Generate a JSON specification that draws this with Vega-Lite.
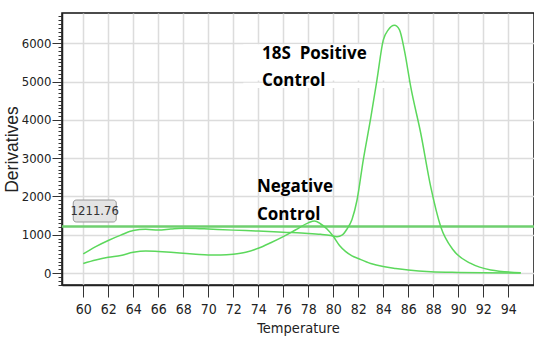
{
  "$schema": "https://vega.github.io/schema/vega-lite/v6.json",
  "width": 472,
  "height": 272,
  "autosize": "none",
  "padding": {"left": 62, "top": 13, "right": 0, "bottom": 52},
  "background": "white",
  "config": {
    "view": {"stroke": "#111", "strokeWidth": 1.5},
    "axis": {
      "labelFont": "DejaVu Sans Condensed",
      "labelFontSize": 13,
      "labelColor": "#222",
      "titleFont": "DejaVu Sans Condensed",
      "titleFontSize": 14.5,
      "titleFontWeight": "normal",
      "titleColor": "#222",
      "domainColor": "#222",
      "domainWidth": 1.5,
      "tickColor": "#333",
      "gridColor": "#dcdcdc",
      "gridWidth": 1.5
    }
  },
  "datasets": {
    "curves": [
      {"series": "18S Positive Control", "T": 60, "v": 500},
      {"series": "18S Positive Control", "T": 61, "v": 690},
      {"series": "18S Positive Control", "T": 62, "v": 850},
      {"series": "18S Positive Control", "T": 63, "v": 990},
      {"series": "18S Positive Control", "T": 64, "v": 1110},
      {"series": "18S Positive Control", "T": 65, "v": 1140},
      {"series": "18S Positive Control", "T": 66, "v": 1125},
      {"series": "18S Positive Control", "T": 67, "v": 1150},
      {"series": "18S Positive Control", "T": 68, "v": 1170},
      {"series": "18S Positive Control", "T": 69, "v": 1165},
      {"series": "18S Positive Control", "T": 70, "v": 1150},
      {"series": "18S Positive Control", "T": 72, "v": 1120},
      {"series": "18S Positive Control", "T": 74, "v": 1095},
      {"series": "18S Positive Control", "T": 76, "v": 1065},
      {"series": "18S Positive Control", "T": 78, "v": 1035},
      {"series": "18S Positive Control", "T": 79, "v": 1010},
      {"series": "18S Positive Control", "T": 79.8, "v": 980},
      {"series": "18S Positive Control", "T": 80.3, "v": 950},
      {"series": "18S Positive Control", "T": 80.7, "v": 990},
      {"series": "18S Positive Control", "T": 81.1, "v": 1150},
      {"series": "18S Positive Control", "T": 81.5, "v": 1400},
      {"series": "18S Positive Control", "T": 81.9, "v": 1900},
      {"series": "18S Positive Control", "T": 82.4, "v": 2950},
      {"series": "18S Positive Control", "T": 83.0, "v": 4050},
      {"series": "18S Positive Control", "T": 83.5, "v": 5050},
      {"series": "18S Positive Control", "T": 84.0, "v": 6080},
      {"series": "18S Positive Control", "T": 84.4, "v": 6350},
      {"series": "18S Positive Control", "T": 84.9, "v": 6470},
      {"series": "18S Positive Control", "T": 85.3, "v": 6350},
      {"series": "18S Positive Control", "T": 85.7, "v": 5800},
      {"series": "18S Positive Control", "T": 86.2, "v": 4860},
      {"series": "18S Positive Control", "T": 87.0, "v": 3650},
      {"series": "18S Positive Control", "T": 87.8, "v": 2250},
      {"series": "18S Positive Control", "T": 88.6, "v": 1210},
      {"series": "18S Positive Control", "T": 89.6, "v": 600},
      {"series": "18S Positive Control", "T": 91.0, "v": 250},
      {"series": "18S Positive Control", "T": 92.6, "v": 80},
      {"series": "18S Positive Control", "T": 95.0, "v": 10},
      {"series": "Negative Control", "T": 60, "v": 250},
      {"series": "Negative Control", "T": 61, "v": 340},
      {"series": "Negative Control", "T": 62, "v": 410},
      {"series": "Negative Control", "T": 63, "v": 460},
      {"series": "Negative Control", "T": 64, "v": 540},
      {"series": "Negative Control", "T": 65, "v": 575},
      {"series": "Negative Control", "T": 66, "v": 560},
      {"series": "Negative Control", "T": 67, "v": 540},
      {"series": "Negative Control", "T": 68, "v": 515},
      {"series": "Negative Control", "T": 69, "v": 490},
      {"series": "Negative Control", "T": 70, "v": 470},
      {"series": "Negative Control", "T": 71, "v": 470},
      {"series": "Negative Control", "T": 72, "v": 490},
      {"series": "Negative Control", "T": 73, "v": 540},
      {"series": "Negative Control", "T": 74, "v": 645},
      {"series": "Negative Control", "T": 75, "v": 790},
      {"series": "Negative Control", "T": 76, "v": 950},
      {"series": "Negative Control", "T": 77, "v": 1130},
      {"series": "Negative Control", "T": 78, "v": 1310},
      {"series": "Negative Control", "T": 78.5, "v": 1360},
      {"series": "Negative Control", "T": 79, "v": 1280},
      {"series": "Negative Control", "T": 79.5, "v": 1150},
      {"series": "Negative Control", "T": 80, "v": 960},
      {"series": "Negative Control", "T": 80.5, "v": 720},
      {"series": "Negative Control", "T": 81, "v": 560},
      {"series": "Negative Control", "T": 81.5, "v": 450},
      {"series": "Negative Control", "T": 82, "v": 380},
      {"series": "Negative Control", "T": 83, "v": 250},
      {"series": "Negative Control", "T": 84, "v": 170},
      {"series": "Negative Control", "T": 85, "v": 120},
      {"series": "Negative Control", "T": 86, "v": 80},
      {"series": "Negative Control", "T": 87.8, "v": 35},
      {"series": "Negative Control", "T": 90, "v": 15},
      {"series": "Negative Control", "T": 92, "v": 5},
      {"series": "Negative Control", "T": 95, "v": 0}
    ],
    "whitebox": [
      {"T": 72.8, "T2": 87.9, "v": 5030, "v2": 5975},
      {"T": 72.8, "T2": 87.9, "v": 4830, "v2": 4970}
    ],
    "threshold": [
      {"T": 58.0, "T2": 97.0, "v": 1211.76}
    ],
    "thrbox": [
      {"T": 59.2, "T2": 62.64, "v": 1332, "v2": 1906, "label": "1211.76", "Tc": 60.92, "vc": 1619}
    ],
    "notes": [
      {"T": 74.3, "v": 5730, "label": "18S\u00a0 Positive"},
      {"T": 74.3, "v": 5020, "label": "Control"},
      {"T": 73.9, "v": 2245, "label": "Negative"},
      {"T": 73.9, "v": 1514, "label": "Control"}
    ]
  },
  "encoding": {
    "x": {
      "field": "T",
      "type": "quantitative",
      "scale": {"domain": [58.3, 96.06], "nice": false, "zero": false},
      "axis": {
        "title": "Temperature",
        "values": [60, 62, 64, 66, 68, 70, 72, 74, 76, 78, 80, 82, 84, 86, 88, 90, 92, 94],
        "tickSize": 12,
        "labelFontSize": 14,
        "labelPadding": 5,
        "titlePadding": 5,
        "grid": true
      }
    },
    "y": {
      "field": "v",
      "type": "quantitative",
      "scale": {"domain": [-313, 6790], "nice": false, "zero": false},
      "axis": {
        "title": "Derivatives",
        "titleFontSize": 17.5,
        "titleFont": "Liberation Sans",
        "values": [-300, -200, -100, 0, 100, 200, 300, 400, 500, 600, 700, 800, 900, 1000, 1100, 1200, 1300, 1400, 1500, 1600, 1700, 1800, 1900, 2000, 2100, 2200, 2300, 2400, 2500, 2600, 2700, 2800, 2900, 3000, 3100, 3200, 3300, 3400, 3500, 3600, 3700, 3800, 3900, 4000, 4100, 4200, 4300, 4400, 4500, 4600, 4700, 4800, 4900, 5000, 5100, 5200, 5300, 5400, 5500, 5600, 5700, 5800, 5900, 6000, 6100, 6200, 6300, 6400, 6500, 6600, 6700],
        "labelExpr": "datum.value % 1000 === 0 ? datum.value : ''",
        "tickSize": {"condition": {"test": "datum.value % 1000 === 0", "value": 10}, "value": 4},
        "gridOpacity": {"condition": {"test": "datum.value % 1000 === 0", "value": 1}, "value": 0},
        "labelPadding": 1,
        "titlePadding": 0,
        "grid": true
      }
    }
  },
  "layer": [
    {
      "data": {"name": "whitebox"},
      "mark": {"type": "rect", "fill": "white", "stroke": null},
      "encoding": {"x2": {"field": "T2"}, "y2": {"field": "v2"}}
    },
    {
      "data": {"name": "threshold"},
      "mark": {"type": "rule", "color": "#6fcf6f", "strokeWidth": 2.5, "clip": true},
      "encoding": {"x2": {"field": "T2"}}
    },
    {
      "data": {"name": "curves"},
      "mark": {"type": "line", "color": "#5cd85c", "strokeWidth": 1.5, "interpolate": "monotone"},
      "encoding": {"detail": {"field": "series"}}
    },
    {
      "data": {"name": "thrbox"},
      "mark": {"type": "rect", "fill": "#e4e4e4", "stroke": "#999", "strokeWidth": 1, "cornerRadius": 3},
      "encoding": {"x2": {"field": "T2"}, "y2": {"field": "v2"}}
    },
    {
      "data": {"name": "thrbox"},
      "mark": {"type": "text", "font": "DejaVu Sans Condensed", "fontSize": 13, "color": "#333", "align": "center", "baseline": "middle"},
      "encoding": {
        "x": {"field": "Tc", "type": "quantitative"},
        "y": {"field": "vc", "type": "quantitative"},
        "text": {"field": "label"}
      }
    },
    {
      "data": {"name": "notes"},
      "mark": {"type": "text", "font": "Open Sans", "fontSize": 17, "fontWeight": "bold", "color": "#000", "align": "left", "baseline": "middle"},
      "encoding": {"text": {"field": "label"}}
    }
  ]
}
